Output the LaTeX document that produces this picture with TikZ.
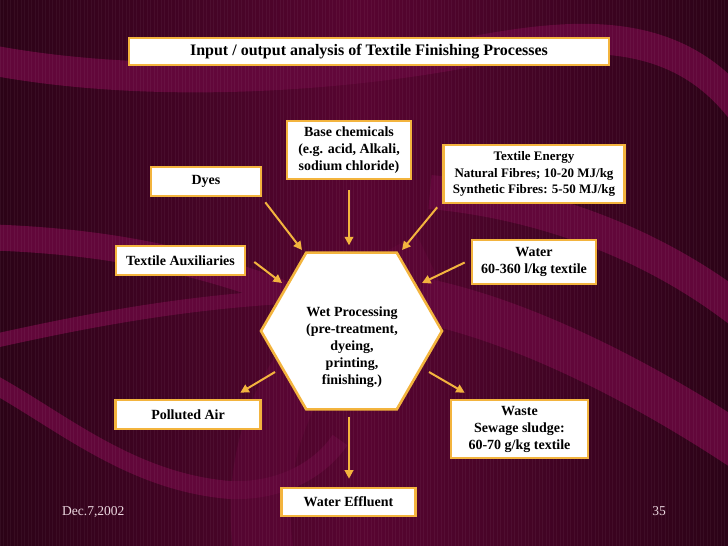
\documentclass[tikz,border=0pt]{standalone}
\usepackage{fontspec}
\setmainfont{Liberation Serif}
\usetikzlibrary{arrows.meta,calc,shapes.geometric}
\definecolor{bgdark}{HTML}{2C0317}
\definecolor{bgmid}{HTML}{580431}
\definecolor{ribbon}{HTML}{62073A}
\definecolor{gold}{HTML}{F3B43E}
\definecolor{foot}{HTML}{EAD6DE}
\begin{document}
\begin{tikzpicture}[x=1pt,y=-1pt,
  box/.style={draw=gold, line width=2.6pt, fill=white, inner sep=0pt, align=center,
    font=\fontsize{14}{17}\selectfont\bfseries},
  hexbox/.style={draw=gold, line width=2.6pt, fill=white, regular polygon, regular polygon sides=6,
    minimum size=181pt, inner sep=0pt},
  hextext/.style={align=center, inner sep=0pt, font=\fontsize{14}{17}\selectfont\bfseries},
  arr/.style={draw=gold, line width=2pt, -{Triangle[length=8.5pt,width=8.5pt]}},
  rib/.style={draw=ribbon, line cap=butt},
  foottext/.style={text=foot, inner sep=0pt, font=\fontsize{13.5}{16}\selectfont}
]
\useasboundingbox (0,0) rectangle (728,546);
% background
\shade[left color=bgdark, right color=bgdark, middle color=bgmid] (0,0) rectangle (728,546);
\draw[rib, line width=30pt] (-20,58) .. controls (150,92) and (350,76) .. (480,50) .. controls (580,32) and (680,25) .. (745,115);
\draw[rib, line width=60pt, opacity=0.5] (265,560) .. controls (245,450) and (290,330) .. (430,262);
\draw[rib, line width=26pt] (-20,237) .. controls (80,240) and (180,252) .. (300,300);
\draw[rib, line width=14pt] (-10,342) .. controls (80,322) and (180,302) .. (300,296);
\draw[rib, line width=18pt] (-10,382) .. controls (60,420) and (130,482) .. (230,490) .. controls (280,492) and (320,470) .. (340,440);
\draw[rib, line width=34pt] (430,192) .. controls (520,200) and (640,232) .. (745,315);
\draw[rib, line width=45pt] (420,300) .. controls (520,320) and (640,380) .. (745,450);
\foreach \i in {0,3.5,...,728} \draw[white, opacity=0.045, line width=0.5pt] (\i,0) -- (\i,546);
% nodes
\node[box, minimum width=480pt, minimum height=27pt, font=\fontsize{16}{19}\selectfont\bfseries] (title) at (369,51.5) {Input / output analysis of Textile Finishing Processes};
\node[box, minimum width=124pt, minimum height=58pt] (base) at (349,150) {Base chemicals\\(e.g. acid, Alkali,\\sodium chloride)};
\node[box, minimum width=110pt, minimum height=29pt] (dyes) at (206,181.5) {Dyes};
\node[box, minimum width=181pt, minimum height=58pt, font=\fontsize{13}{16.5}\selectfont\bfseries] (energy) at (534,174) {Textile Energy\\Natural Fibres; 10-20 MJ/kg\\Synthetic Fibres: 5-50 MJ/kg};
\node[box, minimum width=129pt, minimum height=29pt] (aux) at (180.5,260.5) {Textile Auxiliaries};
\node[box, minimum width=124pt, minimum height=44pt] (water) at (534,262) {Water\\60-360 l/kg textile};
\node[hexbox] (wet) at (351.5,331) {};
\node[hextext] (wettext) at (352,347.5) {Wet Processing\\(pre-treatment,\\dyeing,\\printing,\\finishing.)};
\node[box, minimum width=145pt, minimum height=29pt] (air) at (188,414.5) {Polluted Air};
\node[box, minimum width=137pt, minimum height=58pt] (waste) at (519.5,429) {Waste\\Sewage sludge:\\60-70 g/kg textile};
\node[box, minimum width=134pt, minimum height=28pt] (effl) at (348.5,502) {Water Effluent};
% footer
\node[foottext, anchor=base west] (date) at (62,515) {Dec.7,2002};
\node[foottext, anchor=base east] (page) at (666,515) {35};
% connectors
\draw[arr] ($(dyes.south east)+(3,5)$) -- ($(wet.center)+(-49.5,-81)$);
\draw[arr] ($(base.south)+(0,10)$) -- ($(base.south |- wet.north)+(0,-6)$);
\draw[arr] ($(energy.south west)+(-5,3)$) -- ($(wet.center)+(50.5,-81)$);
\draw[arr] ($(water.west)+(-6,0.5)$) -- ($(wet.center)+(70.5,-48)$);
\draw[arr] ($(aux.east)+(8,1.5)$) -- ($(wet.center)+(-69.5,-48)$);
\draw[arr] ($(wet.center)+(-76.5,41)$) -- ($(air.north east)+(-21.5,-6)$);
\draw[arr] ($(wet.center)+(77.5,41)$) -- ($(waste.north west)+(15,-6)$);
\draw[arr] ($(wet.south)+(-2.5,6)$) -- ($(effl.north)+(0.5,-8)$);
\end{tikzpicture}
\end{document}
